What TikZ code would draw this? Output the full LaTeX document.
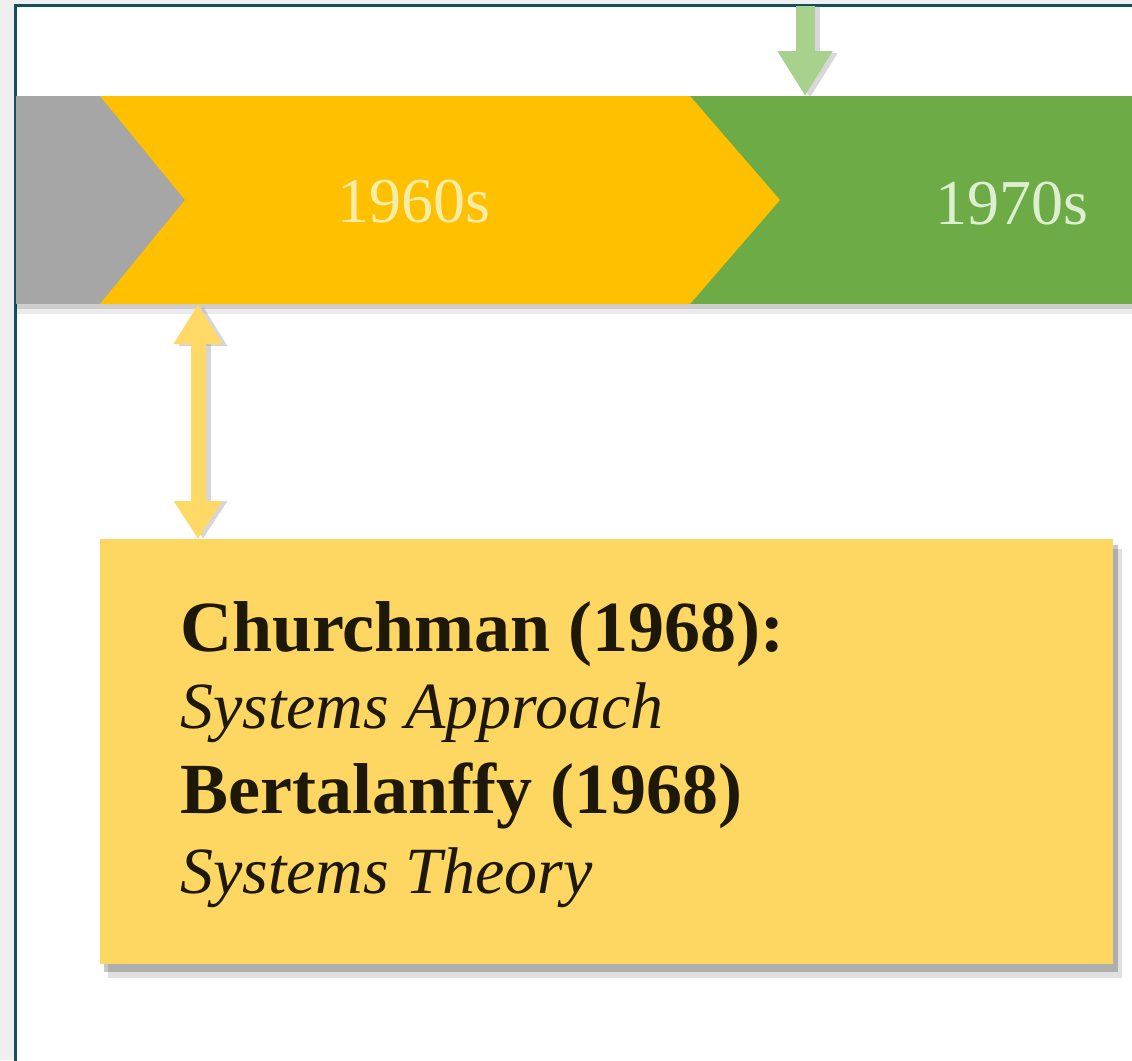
\documentclass[tikz,border=0pt]{standalone}
\usepackage{fontspec}
\setmainfont{Liberation Serif}
\usetikzlibrary{arrows.meta}
\definecolor{outerbg}{HTML}{EFEFEF}
\definecolor{frame}{HTML}{164F5B}
\definecolor{tlgray}{HTML}{A6A6A6}
\definecolor{tlyellow}{HTML}{FFC000}
\definecolor{tlgreen}{HTML}{6CAB45}
\definecolor{boxyellow}{HTML}{FDD762}
\definecolor{arrowyellow}{HTML}{FFD966}
\definecolor{arrowgreen}{HTML}{A9D18E}
\definecolor{yr60}{HTML}{F7EDA6}
\definecolor{yr70}{HTML}{DDEFD0}
\definecolor{ink}{HTML}{1E1808}
\tikzset{
  yeartext/.style={inner sep=0pt, font=\fontsize{64}{70}\selectfont},
  boldline/.style={anchor=base west, inner sep=0pt, text=ink, font=\fontsize{72}{80}\selectfont\bfseries},
  itline/.style={anchor=base west, inner sep=0pt, text=ink, font=\fontsize{66}{76}\selectfont\itshape},
  infobox/.style={fill=boxyellow, draw=none, inner sep=0pt, anchor=north west},
  yarrow/.style={draw=arrowyellow, line width=15pt, {Triangle[width=46pt,length=40pt]}-{Triangle[width=46pt,length=38pt]}},
  yarrowshadow/.style={draw=black!45, opacity=.35, line width=15pt, {Triangle[width=46pt,length=40pt]}-{Triangle[width=46pt,length=38pt]}},
  garrow/.style={draw=arrowgreen, line width=19pt, -{Triangle[width=52pt,length=45pt]}},
  garrowshadow/.style={draw=black!50, opacity=.3, line width=19pt, -{Triangle[width=52pt,length=45pt]}},
}
\begin{document}
\begin{tikzpicture}[x=1pt,y=-1pt]
\useasboundingbox (0,0) rectangle (1132,1060);
\fill[outerbg] (0,0) rectangle (1132,1060);
\filldraw[fill=white, draw=frame, line width=3pt] (15,5) rectangle (1150,1080);

% timeline band
\fill[black, opacity=.08] (16,300) rectangle (1132,314);
\fill[black, opacity=.12] (16,300) rectangle (1132,309);
\fill[tlgray] (16,96) rectangle (200,304);
\fill[tlgreen] (680,96) rectangle (1132,304);
\fill[tlyellow] (100,96) -- (690,96) -- (780,200) -- (690,304) -- (100,304) -- (185,200) -- cycle;

\node[yeartext, text=yr60] (t60) at (414,202) {1960s};
\node[yeartext, text=yr70] (t70) at (1012,204) {1970s};

% green arrow from top
\coordinate (gtop) at (805,6);
\coordinate (gbot) at (805,96);
\coordinate (gtops) at (810,6);
\coordinate (gbots) at (810,98);
\draw[garrowshadow] (gtops) -- (gbots);
\draw[garrow] (gtop) -- (gbot);

% info box with shadow
\fill[black, opacity=.12] (108,549) rectangle (1122,978);
\fill[black, opacity=.22] (104,545) rectangle (1118,972);
\node[infobox, minimum width=1013pt, minimum height=425pt] (box) at (100,539) {};

\node[boldline] (l1) at (180,651) {Churchman (1968):};
\node[itline]   (l2) at (180,728) {Systems Approach};
\node[boldline] (l3) at (180,813) {Bertalanffy (1968)};
\node[itline]   (l4) at (180,893) {Systems Theory};

% yellow double arrow
\coordinate (c60) at (198,304);
\coordinate (c60s) at (203,306);
\draw[yarrowshadow] (c60s) -- (c60s |- box.north);
\draw[yarrow] (c60) -- (c60 |- box.north);
\end{tikzpicture}
\end{document}
